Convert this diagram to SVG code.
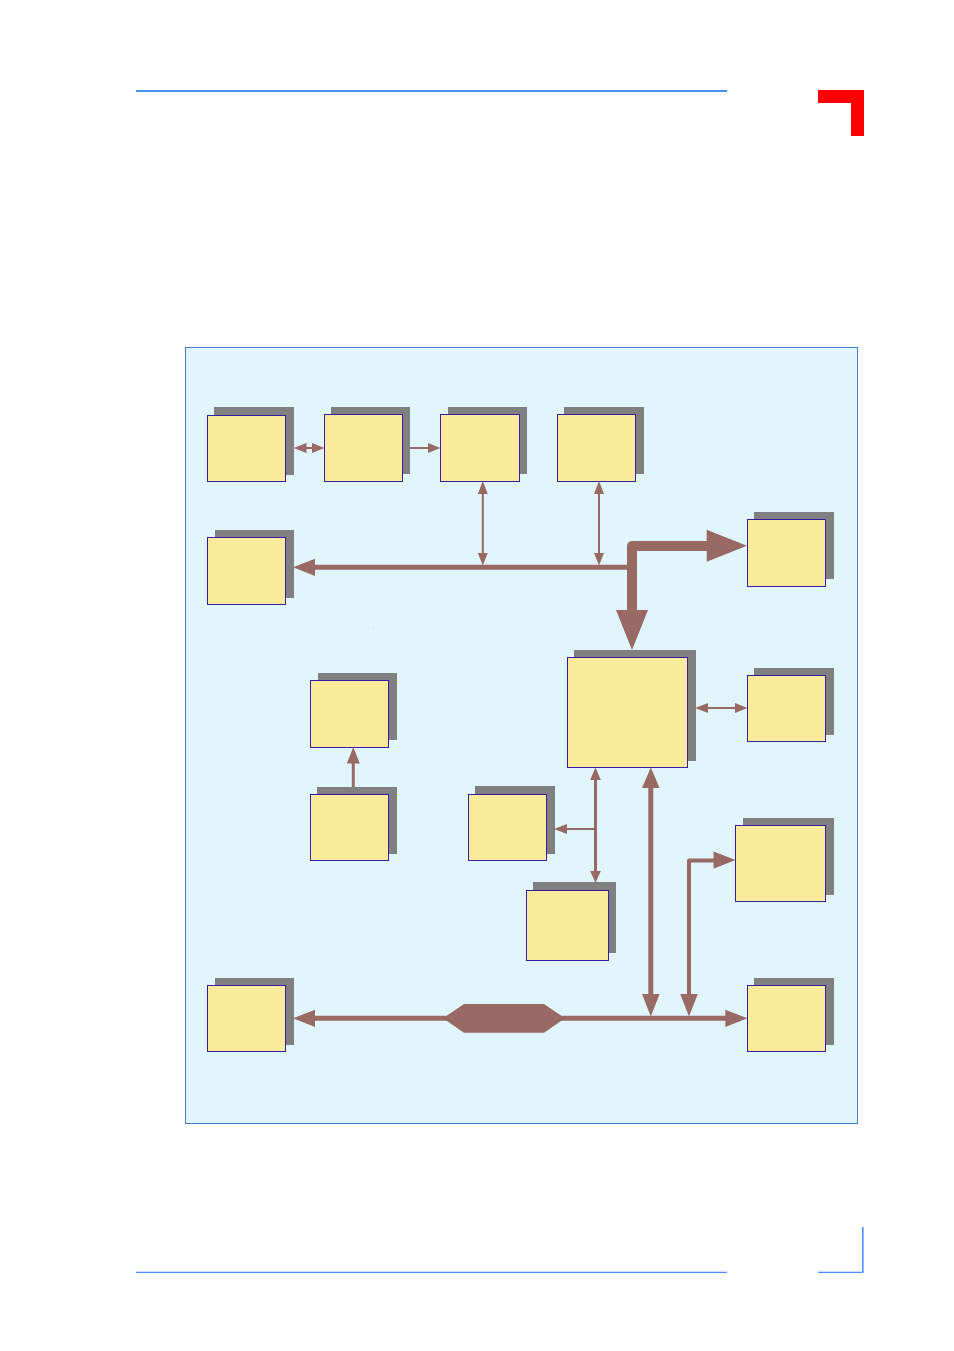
<svg xmlns="http://www.w3.org/2000/svg" width="954" height="1351" viewBox="0 0 954 1351">
<style>
.s{fill:#808080}
.b{fill:#faeb9b;stroke:#3a1aa8;stroke-width:1}
.a{fill:#996a63}
.l{stroke:#996a63;fill:none}
.r{fill:#4a90ff}
</style>
<rect width="954" height="1351" fill="#ffffff"/>
<g id="page-marks">
<rect class="r" x="136" y="90" width="591" height="2"/>
<rect class="r" x="136" y="1271.700" width="591" height="1.300"/>
<rect class="r" x="818" y="1271.700" width="45" height="1.300"/>
<rect class="r" x="862" y="1227" width="1.600" height="45.600"/>
<path d="M818 90H864V136H851V103H818Z" fill="#ff0000"/>
</g>
<rect id="panel" x="185.500" y="347.500" width="672" height="776" fill="#e1f5fd" stroke="#4a7fd0" stroke-width="1"/>
<rect x="373" y="627" width="1" height="1" fill="#e6c8b8"/>
<g id="nodes">
<g id="n1"><rect class="s" x="214" y="407" width="80" height="68"/><rect class="b" x="207.500" y="415.500" width="78" height="66"/></g>
<g id="n2"><rect class="s" x="331" y="407" width="79" height="67"/><rect class="b" x="324.500" y="414.500" width="78" height="67"/></g>
<g id="n3"><rect class="s" x="448" y="407" width="79" height="67"/><rect class="b" x="440.500" y="414.500" width="79" height="67"/></g>
<g id="n4"><rect class="s" x="564" y="407" width="80" height="67"/><rect class="b" x="557.500" y="414.500" width="78" height="67"/></g>
<g id="n5"><rect class="s" x="215" y="530" width="79" height="68"/><rect class="b" x="207.500" y="537.500" width="78" height="67"/></g>
<g id="n6"><rect class="s" x="754" y="512" width="80" height="67"/><rect class="b" x="747.500" y="519.500" width="78" height="67"/></g>
<g id="n7"><rect class="s" x="574" y="650" width="122" height="111"/><rect class="b" x="567.500" y="657.500" width="120" height="110"/></g>
<g id="n8"><rect class="s" x="754" y="668" width="80" height="67"/><rect class="b" x="747.500" y="675.500" width="78" height="66"/></g>
<g id="n9"><rect class="s" x="318" y="673" width="79" height="67"/><rect class="b" x="310.500" y="680.500" width="78" height="67"/></g>
<g id="n10"><rect class="s" x="317" y="787" width="80" height="67"/><rect class="b" x="310.500" y="794.500" width="78" height="66"/></g>
<g id="n11"><rect class="s" x="475" y="786" width="80" height="68"/><rect class="b" x="468.500" y="794.500" width="78" height="66"/></g>
<g id="n12"><rect class="s" x="533" y="882" width="83" height="71"/><rect class="b" x="526.500" y="890.500" width="82" height="70"/></g>
<g id="n13"><rect class="s" x="743" y="818" width="91" height="77"/><rect class="b" x="735.500" y="825.500" width="90" height="76"/></g>
<g id="n14"><rect class="s" x="215" y="978" width="79" height="67"/><rect class="b" x="207.500" y="985.500" width="78" height="66"/></g>
<g id="n15"><rect class="s" x="754" y="978" width="80" height="67"/><rect class="b" x="747.500" y="985.500" width="78" height="66"/></g>
</g>
<g id="connectors">
<path class="l" stroke-width="2" d="M300 448H318"/>
<path class="a" d="M293.500 448L306.500 443V453Z"/>
<path class="a" d="M324.500 448L312 443V453Z"/>
<path class="l" stroke-width="2" d="M410 448H430"/>
<path class="a" d="M440.500 448L428 443V453Z"/>
<path class="l" stroke-width="2" d="M482.800 490V558"/>
<path class="a" d="M482.800 481L477.800 494H487.800Z"/>
<path class="a" d="M482.800 565.500L477.800 553H487.800Z"/>
<path class="l" stroke-width="2" d="M599 490V558"/>
<path class="a" d="M599 481L594 494H604Z"/>
<path class="a" d="M599 565.500L594 553H604Z"/>
<path class="l" stroke-width="5" d="M312 567.300H632"/>
<path class="a" d="M293 567.300L315 558.800V576Z"/>
<path class="l" stroke-width="10" stroke-linejoin="round" d="M632 612V546H710"/>
<path class="a" d="M632 650L616 610H648Z"/>
<path class="a" d="M747 545.800L706.700 529.800V561.800Z"/>
<path class="l" stroke-width="2" d="M702 708H741"/>
<path class="a" d="M695 708L708 703V713Z"/>
<path class="a" d="M747.500 708L735 703V713Z"/>
<path class="l" stroke-width="3" d="M595.500 776V875"/>
<path class="a" d="M595.500 767.500L590.200 780H600.800Z"/>
<path class="a" d="M595.500 883L590.200 871H600.800Z"/>
<path class="l" stroke-width="2" d="M595 829H562"/>
<path class="a" d="M554 829L567 824V834Z"/>
<path class="l" stroke-width="5" d="M650.800 785V997"/>
<path class="a" d="M650.800 767.500L642 788H659.600Z"/>
<path class="a" d="M650.800 1016.500L642 994H659.600Z"/>
<path class="l" stroke-width="4" stroke-linejoin="round" d="M689 997V860.500H716"/>
<path class="a" d="M689 1016.500L680.200 994H697.800Z"/>
<path class="a" d="M735.500 860L713.500 851.500V868.700Z"/>
<path class="l" stroke-width="5" d="M312 1018.300H728"/>
<path class="a" d="M293 1018.300L315 1009.800V1027Z"/>
<path class="a" d="M747.500 1018.300L725.300 1009.800V1027Z"/>
<path class="a" d="M443 1018.300L464 1004H544L565 1018.300L544 1032.700H464Z"/>
<path class="l" stroke-width="3" d="M353.300 787V760"/>
<path class="a" d="M353.300 747L346.800 763.500H359.800Z"/>
</g>
</svg>
